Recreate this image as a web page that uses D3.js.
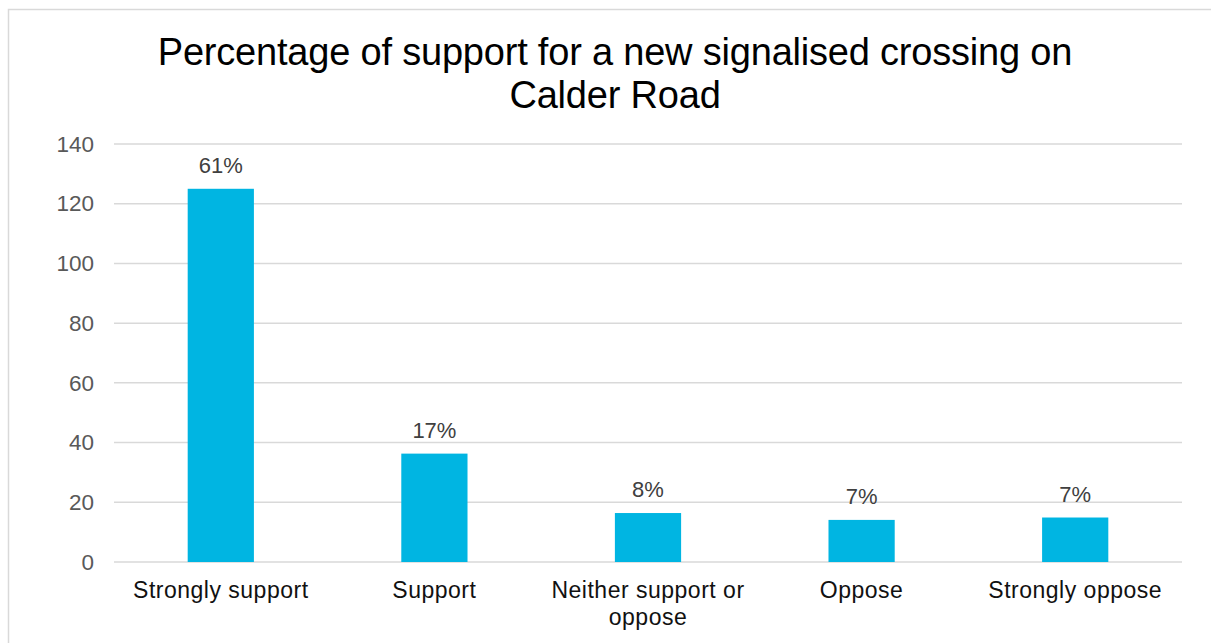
<!DOCTYPE html>
<html>
<head>
<meta charset="utf-8">
<script src="https://cdn.jsdelivr.net/npm/d3@7"></script>
<style>
  body { margin: 0; background: #fff; }
  text { font-family: "Liberation Sans", Arial, sans-serif; }
</style>
</head>
<body>
<svg id="chart"></svg>
<script>
// chart values
const categories = ['Strongly support', 'Support', 'Neither support or oppose', 'Oppose', 'Strongly oppose'];
const counts = [125, 36.3, 16.4, 14.1, 14.9];
const pctLabels = ['61%', '17%', '8%', '7%', '7%'];
const yTicks = [0, 20, 40, 60, 80, 100, 120, 140];
const titleLines = ['Percentage of support for a new signalised crossing on', 'Calder Road'];

const width = 1211;
const height = 643;
const plot = { left: 114, right: 1182, top: 144, bottom: 562 };

const svg = d3.select('#chart')
    .attr('width', width)
    .attr('height', height);

// outer chart border
svg.append('rect')
    .attr('x', 8.5)
    .attr('y', 9.5)
    .attr('width', width + 20)
    .attr('height', height + 20)
    .attr('fill', 'none')
    .attr('stroke', '#d9d9d9')
    .attr('stroke-width', 1.5);

const x = d3.scaleBand()
    .domain(categories)
    .range([plot.left, plot.right])
    .padding(0);

const y = d3.scaleLinear()
    .domain([0, 140])
    .range([plot.bottom, plot.top]);

// title
svg.selectAll('text.title')
    .data(titleLines)
    .join('text')
    .attr('class', 'title')
    .attr('x', 615)
    .attr('y', (d, i) => 65 + i * 43)
    .attr('text-anchor', 'middle')
    .attr('font-size', 38)
    .attr('letter-spacing', -0.2)
    .attr('fill', '#000')
    .text(d => d);

// gridlines
svg.selectAll('line.grid')
    .data(yTicks)
    .join('line')
    .attr('class', 'grid')
    .attr('x1', plot.left)
    .attr('x2', plot.right)
    .attr('y1', d => y(d))
    .attr('y2', d => y(d))
    .attr('stroke', '#d9d9d9')
    .attr('stroke-width', 1.5);

// y axis labels
const yAxis = d3.axisLeft(y).tickValues(yTicks).tickSize(0).tickPadding(20);
const yG = svg.append('g')
    .attr('transform', `translate(${plot.left},0)`)
    .call(yAxis);
yG.select('.domain').remove();
yG.selectAll('text')
    .attr('font-size', 22.5)
    .attr('font-family', '"Liberation Sans", Arial, sans-serif')
    .attr('fill', '#595959');

// bars
const barW = x.bandwidth() * 0.31;
svg.selectAll('rect.bar')
    .data(categories)
    .join('rect')
    .attr('class', 'bar')
    .attr('x', d => x(d) + (x.bandwidth() - barW) / 2)
    .attr('y', (d, i) => y(counts[i]))
    .attr('width', barW)
    .attr('height', (d, i) => y(0) - y(counts[i]))
    .attr('fill', '#00b5e2');

// data labels
svg.selectAll('text.pct')
    .data(categories)
    .join('text')
    .attr('class', 'pct')
    .attr('x', d => x(d) + x.bandwidth() / 2)
    .attr('y', (d, i) => y(counts[i]) - 16)
    .attr('text-anchor', 'middle')
    .attr('font-size', 22)
    .attr('fill', '#404040')
    .text((d, i) => pctLabels[i]);

// category labels, wrapped to two lines where needed
const wrapAt = { 'Neither support or oppose': ['Neither support or', 'oppose'] };
svg.selectAll('text.cat')
    .data(categories)
    .join('text')
    .attr('class', 'cat')
    .attr('x', d => x(d) + x.bandwidth() / 2)
    .attr('y', 598)
    .attr('text-anchor', 'middle')
    .attr('font-size', 23)
    .attr('letter-spacing', 0.5)
    .attr('fill', '#111')
    .each(function(d) {
        const lines = wrapAt[d] || [d];
        d3.select(this).selectAll('tspan')
            .data(lines)
            .join('tspan')
            .attr('x', x(d) + x.bandwidth() / 2)
            .attr('dy', (l, i) => i === 0 ? 0 : 27)
            .text(l => l);
    });
</script>
</body>
</html>
